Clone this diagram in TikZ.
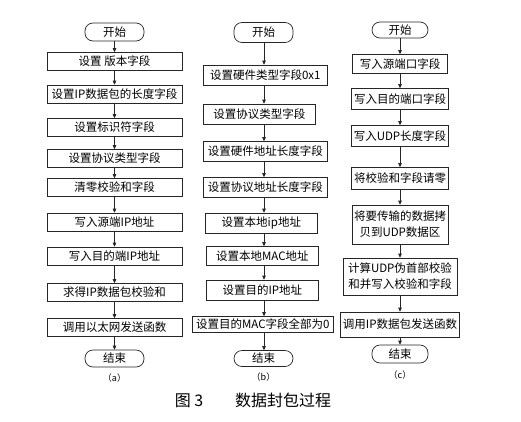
\documentclass[tikz,border=0pt]{standalone}
\usepackage{fontspec}
\setmainfont{Noto Sans CJK SC}
\usetikzlibrary{arrows.meta,positioning}
\tikzset{
  stepbox/.style={draw=black!85,line width=0.7pt,inner sep=0pt,align=center,
    minimum height=18pt,font=\fontsize{11.5}{16}\selectfont},
  termbox/.style={draw=black!85,line width=0.7pt,rounded corners=8pt,inner sep=0pt,
    minimum width=59pt,minimum height=18pt,font=\fontsize{11.5}{13}\selectfont},
  flowarrow/.style={-{Triangle[length=4pt,width=3.6pt]},line width=0.7pt,draw=black!85},
  sublabel/.style={font=\fontsize{9}{10}\selectfont}
}
\begin{document}
\begin{tikzpicture}[x=1pt,y=-1pt]
  \useasboundingbox (0,0) rectangle (521,421);
  % (a)
  \node[termbox] (a0) at (114.5,32) {开始};
  \node[stepbox,minimum width=135pt] (a1) at (114.5,61.5) {设置 版本字段};
  \node[stepbox,minimum width=135pt] (a2) at (114.5,94) {设置IP数据包的长度字段};
  \node[stepbox,minimum width=135pt] (a3) at (114.5,127.5) {设置标识符字段};
  \node[stepbox,minimum width=135pt] (a4) at (114.5,158.5) {设置协议类型字段};
  \node[stepbox,minimum width=135pt] (a5) at (114.5,187.5) {清零校验和字段};
  \node[stepbox,minimum width=135pt] (a6) at (114.5,222) {写入源端IP地址};
  \node[stepbox,minimum width=135pt] (a7) at (114.5,256) {写入目的端IP地址};
  \node[stepbox,minimum width=135pt] (a8) at (114.5,292.5) {求得IP数据包校验和};
  \node[stepbox,minimum width=135pt] (a9) at (114.5,327.5) {调用以太网发送函数};
  \node[termbox,minimum height=17pt] (aE) at (114.5,358.5) {结束};
  \node[sublabel] (aL) at (114.5,378) {（a）};
  % (b)
  \coordinate (bline) at (264,0);
  \node[termbox,minimum height=20pt] (b0) at (263.5,32.5) {开始};
  \node[stepbox,anchor=west,minimum width=124pt,minimum height=20pt] (b1) at (203,75) {设置硬件类型字段0x1};
  \node[stepbox,anchor=west,minimum width=112pt,minimum height=20pt] (b2) at (203,114) {设置协议类型字段};
  \node[stepbox,anchor=west,minimum width=124pt,minimum height=20pt] (b3) at (203,151.5) {设置硬件地址长度字段};
  \node[stepbox,anchor=west,minimum width=124pt,minimum height=20pt] (b4) at (203,187.5) {设置协议地址长度字段};
  \node[stepbox,anchor=west,minimum width=112pt,minimum height=20pt] (b5) at (205,223) {设置本地ip地址};
  \node[stepbox,anchor=west,minimum width=112pt,minimum height=19pt] (b6) at (206,256) {设置本地MAC地址};
  \node[stepbox,anchor=west,minimum width=112pt,minimum height=20pt] (b7) at (206,290) {设置目的IP地址};
  \node[stepbox,anchor=west,minimum width=141pt,minimum height=16pt] (b8) at (192,324.5) {设置目的MAC字段全部为0};
  \node[termbox,minimum height=16pt] (bE) at (263.5,358.5) {结束};
  \node[sublabel] (bL) at (263.5,377) {（b）};
  % (c)
  \node[termbox,minimum width=56pt,minimum height=16pt] (c0) at (400,30) {开始};
  \node[stepbox,minimum width=95pt,minimum height=19pt] (c1) at (400,64) {写入源端口字段};
  \node[stepbox,minimum width=97pt,minimum height=21pt] (c2) at (400,99) {写入目的端口字段};
  \node[stepbox,minimum width=97pt,minimum height=21pt] (c3) at (400,136) {写入UDP长度字段};
  \node[stepbox,minimum width=97pt,minimum height=22pt] (c4) at (400,178.5) {将校验和字段请零};
  \node[stepbox,minimum width=96pt,minimum height=39pt] (c5) at (400,224.5) {将要传输的数据拷\\贝到UDP数据区};
  \node[stepbox,minimum width=114pt,minimum height=37pt] (c6) at (400,276.5) {计算UDP伪首部校验\\和并写入校验和字段};
  \node[stepbox,minimum width=119pt,minimum height=25pt] (c7) at (400,324.5) {调用IP数据包发送函数};
  \node[termbox,minimum width=56pt] (cE) at (400,354) {结束};
  \node[sublabel] (cL) at (400,375) {（c）};
  % caption
  \node[font=\fontsize{16}{18}\selectfont] (cap) at (253,400) {图~3\hspace{2em}数据封包过程};
  % arrows
  \draw[flowarrow] (a0) -- (a1);
  \draw[flowarrow] (a1) -- (a2);
  \draw[flowarrow] (a2) -- (a3);
  \draw[flowarrow] (a3) -- (a4);
  \draw[flowarrow] (a4) -- (a5);
  \draw[flowarrow] (a5) -- (a6);
  \draw[flowarrow] (a6) -- (a7);
  \draw[flowarrow] (a7) -- (a8);
  \draw[flowarrow] (a8) -- (a9);
  \draw[flowarrow] (a9) -- (aE);
  \draw[flowarrow] (b0.south -| bline) -- (b1.north -| bline);
  \draw[flowarrow] (b1.south -| bline) -- (b2.north -| bline);
  \draw[flowarrow] (b2.south -| bline) -- (b3.north -| bline);
  \draw[flowarrow] (b3.south -| bline) -- (b4.north -| bline);
  \draw[flowarrow] (b4.south -| bline) -- (b5.north -| bline);
  \draw[flowarrow] (b5.south -| bline) -- (b6.north -| bline);
  \draw[flowarrow] (b6.south -| bline) -- (b7.north -| bline);
  \draw[flowarrow] (b7.south -| bline) -- (b8.north -| bline);
  \draw[flowarrow] (b8.south -| bline) -- (bE.north -| bline);
  \draw[flowarrow] (c0) -- (c1);
  \draw[flowarrow] (c1) -- (c2);
  \draw[flowarrow] (c2) -- (c3);
  \draw[flowarrow] (c3) -- (c4);
  \draw[flowarrow] (c4) -- (c5);
  \draw[flowarrow] (c5) -- (c6);
  \draw[flowarrow] (c6) -- (c7);
  \draw[flowarrow] (c7) -- (cE);
\end{tikzpicture}
\end{document}
